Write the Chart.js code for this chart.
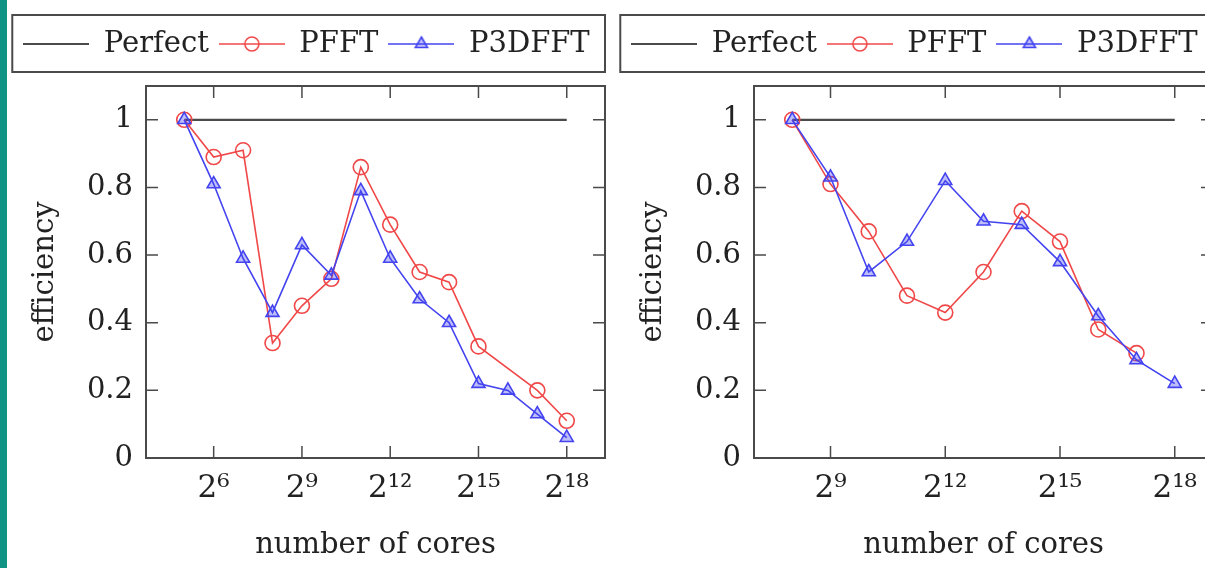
<!DOCTYPE html>
<html>
<head>
<meta charset="utf-8">
<script src="https://cdn.jsdelivr.net/npm/chart.js@4.4.0/dist/chart.umd.min.js"></script>
<style>
html, body { margin: 0; padding: 0; width: 1205px; height: 568px; overflow: hidden; background: #fff; }
#strip { position: absolute; left: 0; top: 0; width: 7px; height: 568px; background: #0f9484; }
#left { position: absolute; left: 8px; top: 0; }
#right { position: absolute; left: 616px; top: 0; }
</style>
</head>
<body>
<div id="strip"></div>
<canvas id="left" width="600" height="568"></canvas>
<canvas id="right" width="600" height="568"></canvas>
<script>
// x values are exponents: number of cores = 2^n
var coresLeft   = [5, 6, 7, 8, 9, 10, 11, 12, 13, 14, 15, 16, 17, 18];
var perfectLeft = [1, 1, 1, 1, 1, 1, 1, 1, 1, 1, 1, 1, 1, 1];
var pfftLeft    = [1.00, 0.89, 0.91, 0.34, 0.45, 0.53, 0.86, 0.69, 0.55, 0.52, 0.33, null, 0.20, 0.11];
var p3dfftLeft  = [1.00, 0.81, 0.59, 0.43, 0.63, 0.54, 0.79, 0.59, 0.47, 0.40, 0.22, 0.20, 0.13, 0.06];
var xTicksLeft  = [6, 9, 12, 15, 18];

var coresRight   = [8, 9, 10, 11, 12, 13, 14, 15, 16, 17, 18];
var perfectRight = [1, 1, 1, 1, 1, 1, 1, 1, 1, 1, 1];
var pfftRight    = [1.00, 0.81, 0.67, 0.48, 0.43, 0.55, 0.73, 0.64, 0.38, 0.31, null];
var p3dfftRight  = [1.00, 0.83, 0.55, 0.64, 0.82, 0.70, 0.69, 0.58, 0.42, 0.29, 0.22];
var xTicksRight  = [9, 12, 15, 18];

var yTicks = [0, 0.2, 0.4, 0.6, 0.8, 1];
var seriesNames = ['Perfect', 'PFFT', 'P3DFFT'];

var FONT = 'DejaVu Serif';
var TEXT = '#222';
var GREY = '#4a4a4a';
var RED = '#f04848';
var BLUE = '#4343f0';
var BLUE_FILL = 'rgba(67, 67, 240, 0.35)';

var SUP = { '0': '\u2070', '1': '\u00b9', '2': '\u00b2', '3': '\u00b3', '4': '\u2074',
            '5': '\u2075', '6': '\u2076', '7': '\u2077', '8': '\u2078', '9': '\u2079' };

function pow2(n) {
	return '2' + String(n).split('').map(function (d) { return SUP[d]; }).join('');
}

function points(xs, ys) {
	return xs.map(function (x, i) { return { x: x, y: ys[i] }; });
}

/* little line + marker pictures for the legend */
function legendImage(kind) {
	var c = document.createElement('canvas');
	c.width = 66;
	c.height = 20;
	var g = c.getContext('2d');
	g.beginPath();
	g.moveTo(0, 10);
	g.lineTo(66, 10);
	g.lineWidth = kind == 0 ? 2.2 : 1.6;
	g.strokeStyle = kind == 0 ? GREY : (kind == 1 ? RED : BLUE);
	g.stroke();
	if (kind == 1) {
		g.beginPath();
		g.arc(33, 10, 7, 0, Math.PI * 2);
		g.stroke();
	}
	if (kind == 2) {
		g.beginPath();
		g.moveTo(33, 3);
		g.lineTo(39.06, 13.5);
		g.lineTo(26.94, 13.5);
		g.closePath();
		g.fillStyle = BLUE_FILL;
		g.fill();
		g.stroke();
	}
	return c;
}
var legendImages = [legendImage(0), legendImage(1), legendImage(2)];

/* frame with inward ticks on all four sides, like pgfplots */
var framePlugin = {
	id: 'frame',
	beforeDatasetsDraw: function (chart) {
		var ctx = chart.ctx, a = chart.chartArea;
		var xs = chart.scales.x, ys = chart.scales.y;
		var len = 12;
		ctx.save();
		ctx.strokeStyle = GREY;
		ctx.lineWidth = 1.5;
		ctx.beginPath();
		xs.ticks.forEach(function (t) {
			var px = xs.getPixelForValue(t.value);
			ctx.moveTo(px, a.bottom); ctx.lineTo(px, a.bottom - len);
			ctx.moveTo(px, a.top); ctx.lineTo(px, a.top + len);
		});
		ys.ticks.forEach(function (t) {
			var py = ys.getPixelForValue(t.value);
			ctx.moveTo(a.left, py); ctx.lineTo(a.left + len, py);
			ctx.moveTo(a.right, py); ctx.lineTo(a.right - len, py);
		});
		ctx.stroke();
		ctx.lineWidth = 2;
		ctx.strokeRect(a.left, a.top, a.right - a.left, a.bottom - a.top);
		ctx.restore();
	}
};

/* box round the legend, and extra room under it */
var legendBoxPlugin = {
	id: 'legendBox',
	beforeLayout: function (chart) {
		var lg = chart.legend;
		if (lg && !lg._patched) {
			var fit = lg.fit;
			lg.fit = function () {
				fit.call(this);
				this.height += 17.5;
			};
			lg._patched = true;
		}
	},
	afterDraw: function (chart) {
		var hb = chart.legend.legendHitBoxes;
		if (!hb || !hb.length) return;
		var ctx = chart.ctx;
		var l = Math.min.apply(null, hb.map(function (h) { return h.left; })) - 11;
		var r = chart.chartArea.right;
		var t = hb[0].top - 14.5;
		var b = hb[0].top + hb[0].height + 13.5;
		ctx.save();
		ctx.strokeStyle = GREY;
		ctx.lineWidth = 2;
		ctx.strokeRect(l, t, r - l, b - t);
		ctx.restore();
	}
};

function makeChart(id, cores, perfect, pfft, p3dfft, xTicks, xMin, xMax) {
	var ctx = document.getElementById(id);
	return new Chart(ctx, {
		type: 'line',
		data: {
			datasets: [{
				label: seriesNames[0],
				data: points(cores, perfect),
				borderColor: GREY,
				borderWidth: 2.2,
				pointRadius: 0,
				order: 3
			}, {
				label: seriesNames[1],
				data: points(cores, pfft),
				borderColor: RED,
				borderWidth: 1.6,
				pointStyle: 'circle',
				pointRadius: 7.5,
				pointBorderWidth: 1.6,
				pointBorderColor: RED,
				pointBackgroundColor: 'rgba(0,0,0,0)',
				spanGaps: true,
				order: 2
			}, {
				label: seriesNames[2],
				data: points(cores, p3dfft),
				borderColor: BLUE,
				borderWidth: 1.6,
				pointStyle: 'triangle',
				pointRadius: 7.5,
				pointBorderWidth: 1.6,
				pointBorderColor: BLUE,
				pointBackgroundColor: BLUE_FILL,
				order: 1
			}]
		},
		options: {
			responsive: false,
			animation: false,
			layout: {
				autoPadding: false,
				padding: { left: 0, right: 3, top: 19.5, bottom: 0 }
			},
			plugins: {
				tooltip: { enabled: false },
				legend: {
					position: 'top',
					align: 'center',
					labels: {
						usePointStyle: true,
						pointStyleWidth: 66,
						padding: 10,
						color: TEXT,
						font: { family: FONT, size: 29 },
						generateLabels: function (chart) {
							var items = Chart.defaults.plugins.legend.labels.generateLabels(chart);
							items.sort(function (a, b) { return a.datasetIndex - b.datasetIndex; });
							items.forEach(function (it) { it.pointStyle = legendImages[it.datasetIndex]; });
							return items;
						}
					}
				}
			},
			scales: {
				x: {
					type: 'linear',
					min: xMin,
					max: xMax,
					afterBuildTicks: function (s) { s.ticks = xTicks.map(function (v) { return { value: v }; }); },
					afterFit: function (s) { s.height = 110; },
					grid: { display: false, drawTicks: false },
					border: { display: false },
					ticks: {
						padding: 12,
						color: TEXT,
						maxRotation: 0,
						autoSkip: false,
						font: { family: FONT, size: 31 },
						callback: function (v) { return pow2(v); }
					},
					title: {
						display: true,
						text: 'number of cores',
						color: TEXT,
						font: { family: FONT, size: 29 },
						padding: { top: 0, bottom: 5 }
					}
				},
				y: {
					min: 0,
					max: 1.1,
					afterBuildTicks: function (s) { s.ticks = yTicks.map(function (v) { return { value: v }; }); },
					afterFit: function (s) { s.width = 138; },
					grid: { display: false, drawTicks: false },
					border: { display: false },
					ticks: {
						padding: 13,
						color: TEXT,
						font: { family: FONT, size: 29 },
						callback: function (v) { return (v === 0 || v === 1) ? String(v) : v.toFixed(1); }
					},
					title: {
						display: true,
						text: 'efficiency',
						color: TEXT,
						font: { family: FONT, size: 29 },
						padding: { top: 20, bottom: 0 }
					}
				}
			}
		},
		plugins: [framePlugin, legendBoxPlugin]
	});
}

/*  Left: efficiency, data from 2^5 cores */
var leftChart = makeChart('left', coresLeft, perfectLeft, pfftLeft, p3dfftLeft, xTicksLeft, 3.7, 19.3);

/*  Right: efficiency, data from 2^8 cores */
var rightChart = makeChart('right', coresRight, perfectRight, pfftRight, p3dfftRight, xTicksRight, 7, 19);
</script>
</body>
</html>
